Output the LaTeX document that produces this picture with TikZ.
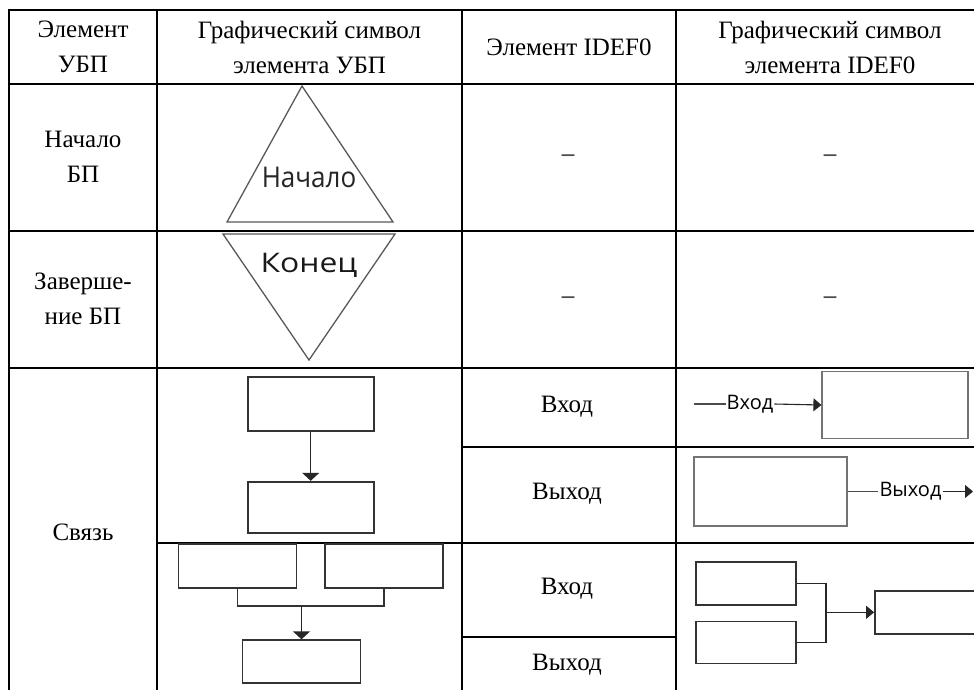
\documentclass[tikz,border=0pt]{standalone}
\usepackage{fontspec}
\setmainfont{Liberation Serif}
\newfontfamily\uifont{Open Sans}
\usetikzlibrary{arrows.meta}
\begin{document}
\begin{tikzpicture}[
	x=1pt, y=-1pt,
	grid/.style={line width=2.6pt, line cap=rect},
	cell/.style={font=\fontsize{25}{35}\selectfont, align=center, inner sep=0pt},
	nodash/.style={font=\bfseries\fontsize{25}{30}\selectfont, text=black!70, inner sep=0pt},
	sym/.style={draw=black!65, line width=1.3pt, line join=miter},
	box/.style={rectangle, draw=black!80, line width=1.8pt, inner sep=0pt},
	thinbox/.style={rectangle, draw=black!55, line width=1.2pt, inner sep=0pt},
	lbl/.style={font=\uifont\fontsize{20}{24}\selectfont, inner sep=1pt},
	bigarrow/.style={line width=1.5pt, draw=black!85, -{Triangle[length=8pt, width=17pt]}},
	smallarrow/.style={line width=1.1pt, draw=black!85, -{Triangle[length=8pt, width=13pt]}}
]
\useasboundingbox (0,0) rectangle (974,689);
\clip (0,0) rectangle (974,689);
\fill[white] (0,0) rectangle (974,689);

\draw[grid] (9,10) -- (1000,10);
\draw[grid] (9,84) -- (1000,84);
\draw[grid] (9,231) -- (1000,231);
\draw[grid] (9,368) -- (1000,368);
\draw[grid] (462,447) -- (1000,447);
\draw[grid] (157,543) -- (1000,543);
\draw[grid] (462,637) -- (676,637);
\foreach \cx in {9,157,462,676}
	\draw[grid] (\cx,10) -- (\cx,700);

\node[cell] (h1) at (83,47) {Элемент\\УБП};
\node[cell] (h2) at (309.5,47) {Графический символ\\элемента УБП};
\node[cell] (h3) at (569,47) {Элемент IDEF0};
\node[cell] (h4) at (830,47) {Графический символ\\элемента IDEF0};

\node[cell] (r1) at (83,157) {Начало\\БП};
\node[cell] (r2) at (83,299) {Заверше-\\ние БП};
\node[cell] (r3) at (83,532) {Связь};

\node[nodash] (d1) at (568,158) {–};
\node[nodash] (d2) at (830,158) {–};
\node[nodash] (d3) at (568,300) {–};
\node[nodash] (d4) at (830,300) {–};

\coordinate (st1) at (302,86);
\coordinate (st2) at (393,222);
\coordinate (st3) at (227,222);
\draw[sym] (st1) -- (st2) -- (st3) -- cycle;
\node[font=\uifont\fontsize{26}{30}\selectfont, text=black!85, inner sep=0pt] (startlbl) at (309,177) {\scalebox{1}[1.1]{Начало}};

\coordinate (en1) at (223,234);
\coordinate (en2) at (395,234);
\coordinate (en3) at (309,360);
\draw[sym] (en1) -- (en2) -- (en3) -- cycle;
\node[font=\uifont\fontsize{27}{30}\selectfont, text=black!90, inner sep=0pt] (endlbl) at (309,265) {\scalebox{1.18}[1]{Конец}};

\node[box, minimum width=126pt, minimum height=54pt] (ub1) at (310.7,403.7) {};
\node[box, minimum width=126pt, minimum height=51pt] (ub2) at (310.7,507.2) {};
\draw[bigarrow] (ub1) -- (ub2);

\node[box, minimum width=118pt, minimum height=44pt] (ub3) at (237.5,566.3) {};
\node[box, minimum width=118pt, minimum height=44pt] (ub4) at (384.2,566.3) {};
\node[box, minimum width=118pt, minimum height=43pt] (ub5) at (301.5,661.7) {};
\coordinate (mg) at (301.5,605.7);
\draw[line width=1.6pt, draw=black!80] (ub3.south) |- (mg) -| (ub4.south);
\draw[bigarrow] (mg) -- (ub5.north);

\node[cell] (in1) at (567,407) {Вход};
\node[cell] (out1) at (567,494) {Выход};
\node[cell] (in2) at (567,589) {Вход};
\node[cell] (out2) at (567,665) {Выход};

\node[thinbox, minimum width=146pt, minimum height=67pt] (inbox) at (895,405) {};
\coordinate (instart) at (694,404);
\node[lbl] (inlbl) at (750,404) {Вход};
\draw[line width=1.1pt, draw=black!70] (instart) -- (inlbl.west);
\draw[smallarrow] (inlbl.east) -- (inbox.west);

\node[thinbox, minimum width=153pt, minimum height=69pt] (outbox) at (770.5,491.5) {};
\node[lbl] (outlbl) at (910.5,491.5) {Выход};
\coordinate (outend) at (973,491.5);
\draw[line width=1.1pt, draw=black!70] (outbox.east) -- (outlbl.west);
\draw[smallarrow] (outlbl.east) -- (outend);

\node[box, minimum width=100pt, minimum height=43pt] (ib1) at (746,583.3) {};
\node[box, minimum width=100pt, minimum height=42pt] (ib2) at (746,642.5) {};
\node[box, minimum width=140pt, minimum height=43pt] (ib3) at (945,612.3) {};
\coordinate (jn) at (826,612.3);
\draw[line width=1.3pt, draw=black!85] (ib1.east) -| (jn) |- (ib2.east);
\draw[smallarrow] (jn) -- (ib3.west);
\end{tikzpicture}
\end{document}
